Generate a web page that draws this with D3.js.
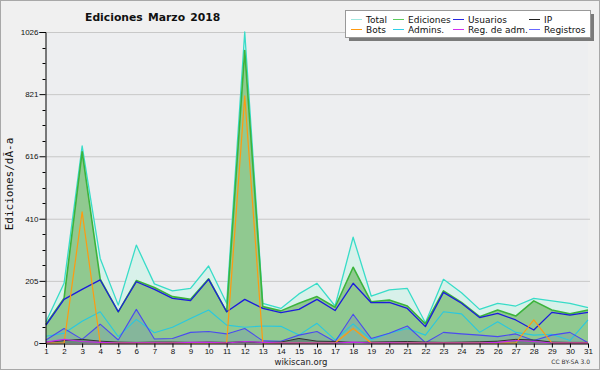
<!DOCTYPE html>
<html lang="es">
<head>
<meta charset="UTF-8">
<title>Ediciones Marzo 2018</title>
<script src="https://d3js.org/d3.v7.min.js"></script>
<style>
  body { margin: 0; background: #f0f0f0; }
  svg { display: block; font-family: "DejaVu Sans", sans-serif; }
  .tick-label { font-size: 8px; fill: #111; }
</style>
</head>
<body>
<svg width="600" height="370"></svg>
<script>
// daily values, March 2018
const days = d3.range(1, 32);
const total      = [70,197,650,279,125,323,195,172,180,254,131,1026,131,114,162,197,122,349,155,175,180,67,210,166,111,131,122,147,139,131,117];
const ediciones  = [62,148,631,211,103,206,183,153,144,212,103,965,120,106,131,153,118,250,136,142,122,63,172,134,87,109,89,139,109,96,109];
const usuarios   = [59,144,177,208,103,202,177,147,140,210,103,144,114,100,111,144,107,197,133,134,114,54,167,131,84,98,76,43,101,92,101];
const ip         = [2,8,12,6,3,2,3,3,2,3,2,4,2,3,15,6,5,2,3,4,5,3,2,3,4,6,12,10,3,2,2];
const bots       = [0,0,433,0,0,0,0,0,0,0,0,815,0,0,0,0,0,48,0,0,0,0,0,0,0,0,0,76,0,0,0];
const admins     = [22,32,72,103,21,78,34,52,81,109,59,52,56,55,26,65,10,63,10,32,48,26,103,96,35,70,35,26,29,8,76];
const regAdm     = [3,12,5,2,0,1,1,0,2,2,0,5,2,0,0,0,0,3,0,1,0,0,0,0,0,2,8,5,0,0,0];
const registros  = [10,48,12,62,10,111,13,15,35,38,30,48,7,6,26,38,4,95,15,32,56,1,35,30,26,21,30,8,26,35,1];
const yMax = 1026;

const legendRows = [
  [{name: "Total", color: "#9fe8e0"}, {name: "Ediciones", color: "#5ccc5c"}, {name: "Usuarios", color: "#2828e0"}, {name: "IP", color: "#222"}],
  [{name: "Bots", color: "#ff9a10"}, {name: "Admins.", color: "#30d0e8"}, {name: "Reg. de adm.", color: "#d030f0"}, {name: "Registros", color: "#6868ff"}]
];

const svg = d3.select("svg");
const W = 600, H = 370;

// frame
svg.append("rect").attr("x", 0.5).attr("y", 0.5).attr("width", W - 1).attr("height", H - 1)
  .attr("fill", "#f0f0f0").attr("stroke", "#a8a8a8");

const x = d3.scaleLinear().domain([1, 31]).range([46, 588]);
const y = d3.scaleLinear().domain([0, yMax]).range([343, 32]);

// plot background
svg.append("rect").attr("x", x(1)).attr("y", y(yMax)).attr("width", x(31) - x(1)).attr("height", y(0) - y(yMax))
  .attr("fill", "#edeef0");

// grid lines
const major = d3.range(0, 6).map(k => Math.round(yMax * k / 5));
svg.append("g").selectAll("line").data(major.slice(1)).join("line")
  .attr("x1", x(1)).attr("x2", x(31) + 2)
  .attr("y1", d => y(d) + 0.5).attr("y2", d => y(d) + 0.5)
  .attr("stroke", "#c8c8c8");

const series = (vals) => vals.map((v, i) => ({d: days[i], v}));
const area = d3.area().x(p => x(p.d)).y0(y(0)).y1(p => y(p.v));
const line = d3.line().x(p => x(p.d)).y(p => y(p.v));

const plot = svg.append("g");
plot.append("path").attr("d", area(series(total))).attr("fill", "#d8f1ea");
plot.append("path").attr("d", area(series(ediciones))).attr("fill", "#90c990");
plot.append("path").attr("d", area(series(registros))).attr("fill", "rgba(70,70,230,0.14)");
plot.append("path").attr("d", area(series(ip))).attr("fill", "rgba(40,40,40,0.3)");

const lines = [
  [total, "#38dcc8", 1.3],
  [ediciones, "#3cb43c", 1.6],
  [usuarios, "#1c1cdc", 1.3],
  [admins, "#28c8e0", 1.1],
  [registros, "#4a4af0", 1.1],
  [ip, "#333", 1],
  [bots, "#ff9a10", 1.2],
  [regAdm, "#c828e8", 1.1]
];
lines.forEach(([vals, c, w]) => {
  plot.append("path").attr("d", line(series(vals)))
    .attr("fill", "none").attr("stroke", c).attr("stroke-width", w).attr("stroke-linejoin", "round");
});

// axes
const yAxis = svg.append("g").attr("transform", `translate(${x(1) - 0.5},0)`)
  .call(d3.axisLeft(y).tickValues(major).tickSize(6).tickPadding(1).tickFormat(d3.format("d")));
yAxis.select(".domain").attr("stroke", "#000");
yAxis.selectAll(".tick line").attr("stroke", "#000");
yAxis.selectAll(".tick text").attr("class", "tick-label").attr("font-family", null).attr("font-size", null);
const minor = d3.range(0, 21).map(k => yMax * k / 20).filter((v, k) => k % 4 !== 0);
yAxis.append("g").selectAll("line").data(minor).join("line")
  .attr("x1", -3).attr("x2", 0).attr("y1", d => Math.round(y(d)) + 0.5).attr("y2", d => Math.round(y(d)) + 0.5)
  .attr("stroke", "#000");

const xAxis = svg.append("g").attr("transform", `translate(0,${y(0) + 0.5})`)
  .call(d3.axisBottom(x).tickValues(days).tickSize(4).tickPadding(1).tickFormat(d3.format("d")));
xAxis.select(".domain").attr("stroke", "#000");
xAxis.selectAll(".tick line").attr("stroke", "#000");
xAxis.selectAll(".tick text").attr("class", "tick-label").attr("font-family", null).attr("font-size", null);

// title and labels
svg.append("text").attr("x", 85).attr("y", 21)
  .attr("font-size", 10.8).attr("font-weight", "bold").attr("word-spacing", 1.5).attr("fill", "#111")
  .text("Ediciones Marzo 2018");
svg.append("text").attr("transform", "translate(13,184) rotate(-90)").attr("text-anchor", "middle")
  .attr("font-family", "DejaVu Sans Mono").attr("font-size", 11).attr("fill", "#111")
  .text("Ediciones/dÃ-a");
svg.append("text").attr("x", 301).attr("y", 365).attr("text-anchor", "middle")
  .attr("font-size", 8.5).attr("fill", "#222").text("wikiscan.org");
svg.append("text").attr("x", 590).attr("y", 364).attr("text-anchor", "end")
  .attr("font-size", 6).attr("fill", "#333").text("CC BY-SA 3.0");

// legend
const lg = svg.append("g");
lg.append("rect").attr("x", 349).attr("y", 14).attr("width", 245).attr("height", 27).attr("fill", "#7a7a7a");
lg.append("rect").attr("x", 345.5).attr("y", 10.5).attr("width", 245).attr("height", 27).attr("fill", "#fff").attr("stroke", "#999");
const colX = [351, 393, 453, 529];
const rowY = [19, 29];
legendRows.forEach((row, r) => {
  row.forEach((it, c) => {
    lg.append("line").attr("x1", colX[c]).attr("x2", colX[c] + 11)
      .attr("y1", rowY[r] + 0.5).attr("y2", rowY[r] + 0.5).attr("stroke", it.color);
    lg.append("text").attr("x", colX[c] + 15).attr("y", rowY[r] + 3.5)
      .attr("font-size", 9).attr("fill", "#111").text(it.name);
  });
});
</script>
</body>
</html>
